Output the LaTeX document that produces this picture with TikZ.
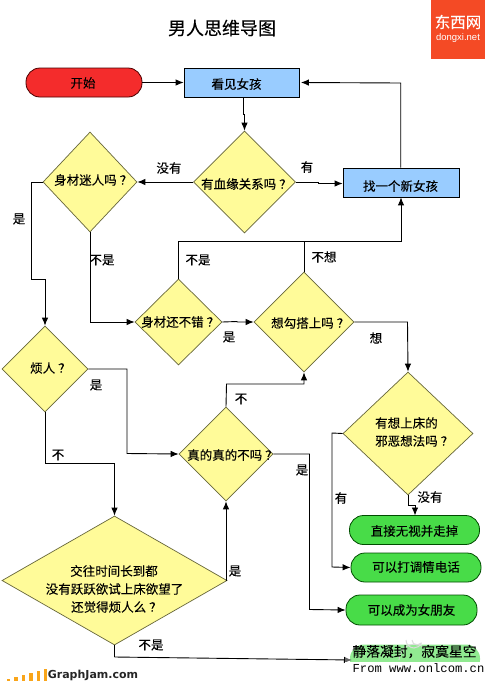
\documentclass[tikz,border=0pt]{standalone}
\usepackage{fontspec}
\setmainfont{Noto Sans CJK SC}[FakeBold=0.12]
\newfontfamily\latinf{Liberation Sans}
\newfontfamily\heavyf{DejaVu Sans}[Scale=1]
\newfontfamily\monof{Liberation Mono}
\usetikzlibrary{shapes.geometric,arrows.meta}
\definecolor{ylw}{HTML}{FFFB99}
\definecolor{ylwline}{HTML}{66663A}
\definecolor{blu}{HTML}{99CCFF}
\definecolor{rd}{HTML}{F42C2C}
\definecolor{grn}{HTML}{48DC48}
\definecolor{logo}{HTML}{F44A25}
\definecolor{bars}{HTML}{F9A51A}
\newcommand{\qq}{\hspace{3pt}？}
\tikzset{
 dia/.style={diamond,draw=ylwline,fill=ylw,line width=.7pt,inner sep=0pt,aspect=1},
 rectb/.style={draw=black,fill=blu,line width=.8pt,minimum width=115pt,minimum height=29pt,inner sep=0pt},
 term/.style={draw=black!70!green,fill=grn,rounded corners=14pt,line width=.8pt,minimum width=130pt,minimum height=29pt,inner sep=0pt},
 lab/.style={font=\fontsize{12.5}{15}\selectfont,inner sep=0pt},
 lw/.style={lab,anchor=west},
 con/.style={draw=black,line width=.9pt},
 arr/.style={con,-{Latex[length=8pt,width=6.5pt]}}
}
\begin{document}
\begin{tikzpicture}[x=1pt,y=-1pt]
\useasboundingbox (0,0) rectangle (485,681);
\fill[white] (0,0) rectangle (485,681);
\node[font=\fontsize{18}{20}\selectfont] (title) at (222,28) {男人思维导图};
\fill[logo] (431,0) rectangle (485,59);
\node[white,font=\fontsize{15.5}{18}\selectfont] (logo1) at (458,22) {东西网};
\node[white,font=\latinf\fontsize{9.5}{11}\selectfont] (logo2) at (458,38) {dongxi.net};
% shapes
\node[rectb,draw=black!70!red,fill=rd,rounded corners=14pt,minimum width=116pt] (start) at (84,82.5) {};
\node[rectb] (see) at (241.5,82.5) {};
\node[rectb,minimum width=116pt] (newg) at (401,182.5) {};
\node[dia,minimum width=102pt,minimum height=102pt] (blood) at (244.5,182) {};
\node[dia,minimum width=94pt,minimum height=100pt] (body) at (90,182) {};
\node[dia,minimum width=87pt,minimum height=86pt] (ok) at (178.5,322) {};
\node[dia,minimum width=100pt,minimum height=100pt] (hook) at (304,322) {};
\node[dia,minimum width=130pt,minimum height=123pt] (bed) at (408,433.5) {};
\node[dia,minimum width=86pt,minimum height=86pt] (ann) at (45,369) {};
\node[dia,minimum width=94pt,minimum height=94pt] (real) at (226,454) {};
\node[dia,minimum width=225pt,minimum height=129pt] (big) at (114.5,580.5) {};
\node[term] (t1) at (414.5,530) {};
\node[term] (t2) at (416,567.5) {};
\node[term,minimum width=131pt,minimum height=30pt] (t3) at (411.5,610) {};
\node[term,draw=none] (t4) at (415,659) {};
% connectors
\draw[arr] (start.east) -- (see.west |- start.east);
\draw[arr] (see.south -| 243,0) -- (243,114) -- (244.5,114) -- (blood.north);
\draw[arr] (blood.east) -- (318,182) -- (318,183.5) -- (newg.west |- 0,183.5);
\draw[arr] (blood.west) -- (body.east);
\draw[arr] (body.south) |- (ok.west);
\draw[con] (body.west) -- (31,182) -- (31,279) -- (45,279);
\draw[arr] (45,279) -- (ann.north);
\draw[arr] (ann.east) -- (127,369) -- (127,453.5) -- (real.west);
\draw[arr] (ann.south) -- (45,463) -- (114.5,463) -- (big.north);
\draw[arr] (big.east) -- (226,580.5) -- (real.south);
\draw[arr] (real.north) -- (226.5,384) -- (304,384) -- (hook.south);
\draw[arr] (ok.east) -- (237,321.5) -- (237,322) -- (hook.west);
\draw[con] (ok.north) -- (178.5,241) -- (304,241);
\draw[con] (hook.north) -- (304,241);
\draw[arr] (304,241) -- (401,241) -- (newg.south -| 401,0);
\draw[arr] (newg.north -| 400.7,0) -- (400.7,83) -- ([xshift=1.5pt]see.east);
\draw[arr] (hook.east) -- (407.5,322) -- (bed.north);
\draw[arr] (bed.west) -- (332,433) -- (332,567) -- (t2.west);
\draw[arr] (bed.south) -- (408,505) -- (415,505) -- (415,515.5);
\draw[arr] (real.east) -- (309.5,454) -- (309.5,609.5) -- (t3.west);
\draw[con] (big.south) -- (114.5,657);
\draw[arr] (114.5,657) -- (352,660);
% texts in shapes
\node[lab] (tstart) at (83,83) {开始};
\node[lab] (tsee) at (236.5,84) {看见女孩};
\node[lab] (tnew) at (400.5,186) {找一个新女孩};
\node[lw] (tblood) at (201,184) {有血缘关系吗\qq};
\node[lw] (tbody) at (54,180) {身材迷人吗\qq};
\node[lw] (tok) at (141,322) {身材还不错\qq};
\node[lw] (thook) at (271,323) {想勾搭上吗\qq};
\node[lw] (tbed1) at (375,423) {有想上床的};
\node[lw] (tbed2) at (375,441) {邪恶想法吗\qq};
\node[lw] (tann) at (30,368) {烦人\qq};
\node[lw] (treal) at (187,455) {真的真的不吗\qq};
\node[lab] (tbig1) at (114,571) {交往时间长到都};
\node[lab] (tbig2) at (114.5,589) {没有跃跃欲试上床欲望了};
\node[lw] (tbig3) at (71,607) {还觉得烦人么\qq};
\node[lab] (tt1) at (414.5,531) {直接无视并走掉};
\node[lab] (tt2) at (416,567) {可以打调情电话};
\node[lab] (tt3) at (411.5,610) {可以成为女朋友};
% edge labels
\node[lab] (l1) at (169,168) {没有};
\node[lab] (l2) at (307,167) {有};
\node[lab] (l3) at (19,219) {是};
\node[lab] (l4) at (102,260) {不是};
\node[lab] (l5) at (198,260) {不是};
\node[lab] (l6) at (324,257) {不想};
\node[lab] (l7) at (229,337) {是};
\node[lab] (l8) at (376,338) {想};
\node[lab] (l9) at (96,385) {是};
\node[lab] (l10) at (241,399) {不};
\node[lab] (l11) at (58,455) {不};
\node[lab] (l12) at (302,470) {是};
\node[lab] (l13) at (341,498) {有};
\node[lab] (l14) at (430,497) {没有};
\node[lab] (l15) at (235,571) {是};
\node[lab] (l16) at (151,645) {不是};
% footer
\foreach \i/\h in {0/2,1/4,2/6,3/8,4/10,5/12}{\fill[bars] (7+\i*7.4,681-\h) rectangle +(3.4,\h);}
\node[font=\heavyf\bfseries\fontsize{11}{12}\selectfont,text=black!85,inner sep=0pt] (gj) at (93,675.5) {GraphJam.com};
% watermark
\fill[white,opacity=.4] (345,640) rectangle (485,681);
\fill[white] (345,662) rectangle (485,681);
\draw[black!14,line width=1pt] (406,640) arc (180:20:8) (412,640) arc (180:40:5);
\draw[black!14,line width=.8pt] (399,660) .. controls (400,645) and (415,640) .. (425,648);
\node[font=\fontsize{13.8}{16}\selectfont,inner sep=0pt] (wm) at (414.5,651.5) {静落凝封，寂寞星空};
\node[font=\monof\fontsize{12.2}{13}\selectfont,inner sep=0pt] (wm2) at (418.5,668) {From www.onlcom.cn};
\end{tikzpicture}
\end{document}
